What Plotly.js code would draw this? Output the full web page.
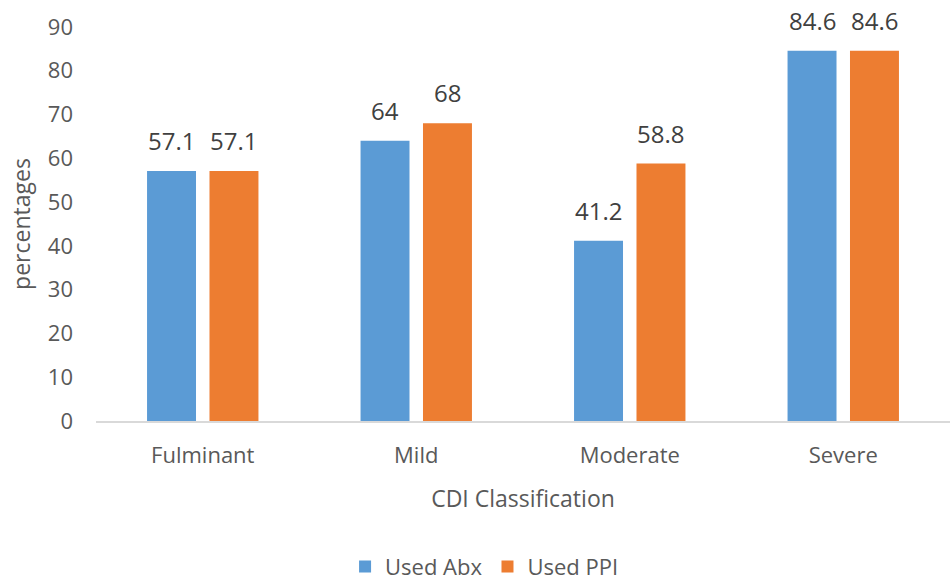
<!DOCTYPE html>
<html>
<head>
<meta charset="utf-8">
<script src="https://cdn.plot.ly/plotly-3.0.1.min.js"></script>
<style>html,body{margin:0;padding:0;background:#fff}#chart{width:952px;height:582px}</style>
</head>
<body>
<div id="chart"></div>
<script>
const categories = ["Fulminant", "Mild", "Moderate", "Severe"];
const usedAbx = [57.1, 64, 41.2, 84.6];
const usedPPI = [57.1, 68, 58.8, 84.6];
const seriesNames = ["Used Abx", "Used PPI"];
const yTicks = [0, 10, 20, 30, 40, 50, 60, 70, 80, 90];

const FONT = "'Open Sans', Lato, sans-serif";
const BARGAP = 0.415;
const labelFont = {family: FONT, size: 24, color: "#404040"};

const traces = [
  {type: "bar", name: seriesNames[0], x: categories, y: usedAbx,
   marker: {color: "#5B9BD5"}, textposition: "none"},
  {type: "bar", name: seriesNames[1], x: categories, y: usedPPI,
   marker: {color: "#ED7D31"}, textposition: "none"}
];

// Data labels placed above each bar (offset = half of a bar slot inside the group)
const slot = (1 - BARGAP) / 2;
const annotations = [];
[usedAbx, usedPPI].forEach((vals, s) => {
  vals.forEach((v, i) => {
    annotations.push({
      xref: "x", yref: "y", x: i + (s === 0 ? -slot / 2 : slot / 2), y: v,
      text: String(v), showarrow: false, yanchor: "bottom", yshift: 12,
      font: labelFont
    });
  });
});

const layout = {
  width: 952, height: 582,
  margin: {l: 96, r: 2, t: 27, b: 161, autoexpand: false},
  paper_bgcolor: "#fff", plot_bgcolor: "#fff",
  barmode: "group", bargap: BARGAP, bargroupgap: 0.216,
  font: {family: FONT, color: "#595959", size: 22},
  xaxis: {
    showgrid: false, showline: true, linecolor: "#D9D9D9", linewidth: 1.5,
    ticks: "", ticklabelstandoff: 14, automargin: false,
    tickfont: {family: FONT, size: 22, color: "#595959"},
    title: {text: "CDI Classification", font: {family: FONT, size: 23, color: "#595959"}, standoff: 23},
    fixedrange: true
  },
  yaxis: {
    range: [0, 90], tickvals: yTicks, ticktext: yTicks.map(String),
    showgrid: false, zeroline: false, showline: false, ticks: "",
    ticklabelstandoff: 22, automargin: false,
    tickfont: {family: FONT, size: 22, color: "#595959"},
    title: {text: "percentages", font: {family: FONT, size: 23, color: "#595959"}, standoff: 10},
    fixedrange: true
  },
  annotations: annotations,
  legend: {orientation: "h", x: 0.455, xanchor: "center", y: -0.37, yanchor: "middle",
           font: {family: FONT, size: 22, color: "#595959"}, itemwidth: 30},
  showlegend: true
};

Plotly.newPlot("chart", traces, layout, {staticPlot: true, displayModeBar: false});
</script>
</body>
</html>
